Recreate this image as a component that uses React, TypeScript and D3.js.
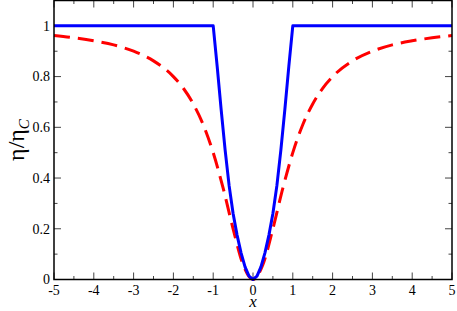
import * as d3 from "d3";

const W = 457;
const H = 311;
const M = { left: 54, right: 5, top: 0.5, bottom: 31.5 };

// blue solid curve
const blueX = [-5, -1, -0.9, -0.8, -0.7, -0.6, -0.5, -0.4, -0.3, -0.2, -0.1, 0, 0.1, 0.2, 0.3, 0.4, 0.5, 0.6, 0.7, 0.8, 0.9, 1, 5];
const blueY = [1, 1, 0.84, 0.67, 0.51, 0.37, 0.26, 0.175, 0.105, 0.05, 0.013, 0, 0.013, 0.05, 0.105, 0.175, 0.26, 0.37, 0.51, 0.67, 0.84, 1, 1];

// red dashed curve
const redX = [-5, -4.5, -4, -3.5, -3, -2.5, -2, -1.75, -1.5, -1.25, -1, -0.75, -0.5, -0.25, 0, 0.25, 0.5, 0.75, 1, 1.25, 1.5, 1.75, 2, 2.5, 3, 3.5, 4, 4.5, 5];
const redY = [0.962, 0.953, 0.941, 0.925, 0.9, 0.862, 0.8, 0.754, 0.692, 0.61, 0.5, 0.36, 0.2, 0.059, 0, 0.059, 0.2, 0.36, 0.5, 0.61, 0.692, 0.754, 0.8, 0.862, 0.9, 0.925, 0.941, 0.953, 0.962];

const xMajor = [-5, -4, -3, -2, -1, 0, 1, 2, 3, 4, 5];
const xMinor = [-4.5, -3.5, -2.5, -1.5, -0.5, 0.5, 1.5, 2.5, 3.5, 4.5];
const yMajor = [0, 0.2, 0.4, 0.6, 0.8, 1];
const yMinor = [0.1, 0.3, 0.5, 0.7, 0.9];

const font = "'Times New Roman', Times, 'Liberation Serif', 'DejaVu Serif', serif";

export default function App() {
  const x = d3.scaleLinear().domain([-5, 5]).range([M.left, W - M.right]);
  const y = d3.scaleLinear().domain([0, 1.1]).range([H - M.bottom, M.top]);

  const blueLine = d3
    .line<number>()
    .x((d) => x(d))
    .y((_d, i) => y(blueY[i]))
    .curve(d3.curveLinear);
  const redLine = d3
    .line<number>()
    .x((d) => x(d))
    .y((_d, i) => y(redY[i]))
    .curve(d3.curveMonotoneX);

  const x0 = x(-5);
  const x1 = x(5);
  const yb = y(0);
  const yt = y(1.1);
  const tickColor = "#444";

  return (
    <svg width={W} height={H} style={{ position: "absolute", left: 0, top: 0, background: "#fff" }}>
      {/* ticks */}
      <g stroke={tickColor} strokeWidth={1}>
        {xMajor.map((t) => (
          <g key={"xM" + t}>
            <line x1={x(t)} x2={x(t)} y1={yb} y2={yb - 7} />
            <line x1={x(t)} x2={x(t)} y1={yt} y2={yt + 7} />
          </g>
        ))}
        {xMinor.map((t) => (
          <g key={"xm" + t}>
            <line x1={x(t)} x2={x(t)} y1={yb} y2={yb - 3.5} />
            <line x1={x(t)} x2={x(t)} y1={yt} y2={yt + 3.5} />
          </g>
        ))}
        {yMajor.map((t) => (
          <g key={"yM" + t}>
            <line x1={x0} x2={x0 + 7} y1={y(t)} y2={y(t)} />
            <line x1={x1} x2={x1 - 7} y1={y(t)} y2={y(t)} />
          </g>
        ))}
        {yMinor.map((t) => (
          <g key={"ym" + t}>
            <line x1={x0} x2={x0 + 3.5} y1={y(t)} y2={y(t)} />
            <line x1={x1} x2={x1 - 3.5} y1={y(t)} y2={y(t)} />
          </g>
        ))}
      </g>

      {/* curves */}
      <path d={redLine(redX) ?? ""} fill="none" stroke="#ff0000" strokeWidth={3} strokeDasharray="16 8" />
      <path d={blueLine(blueX) ?? ""} fill="none" stroke="#0000ff" strokeWidth={3} strokeLinejoin="round" />

      {/* frame */}
      <rect x={x0} y={yt} width={x1 - x0} height={yb - yt} fill="none" stroke="#000" strokeWidth={1.5} />

      {/* tick labels */}
      <g style={{ fontFamily: font, fontSize: 14 }} fill="#000">
        {xMajor.map((t) => (
          <text key={"xl" + t} x={x(t)} y={yb + 15} textAnchor="middle">
            {t}
          </text>
        ))}
        {yMajor.map((t) => (
          <text key={"yl" + t} x={x0 - 4} y={y(t)} dy="0.35em" textAnchor="end">
            {t === 0 || t === 1 ? String(t) : t.toFixed(1)}
          </text>
        ))}
      </g>

      {/* axis titles */}
      <text
        x={x(0)}
        y={yb + 27.5}
        textAnchor="middle"
        style={{ fontFamily: font, fontStyle: "italic", fontSize: 17 }}
      >
        x
      </text>
      <text
        transform={`translate(24,${(yb + yt) / 2}) rotate(-90)`}
        textAnchor="middle"
        style={{ fontFamily: font, fontSize: 24 }}
      >
        η/η
        <tspan style={{ fontSize: 15, fontStyle: "italic" }} dy={5}>
          C
        </tspan>
      </text>
    </svg>
  );
}
